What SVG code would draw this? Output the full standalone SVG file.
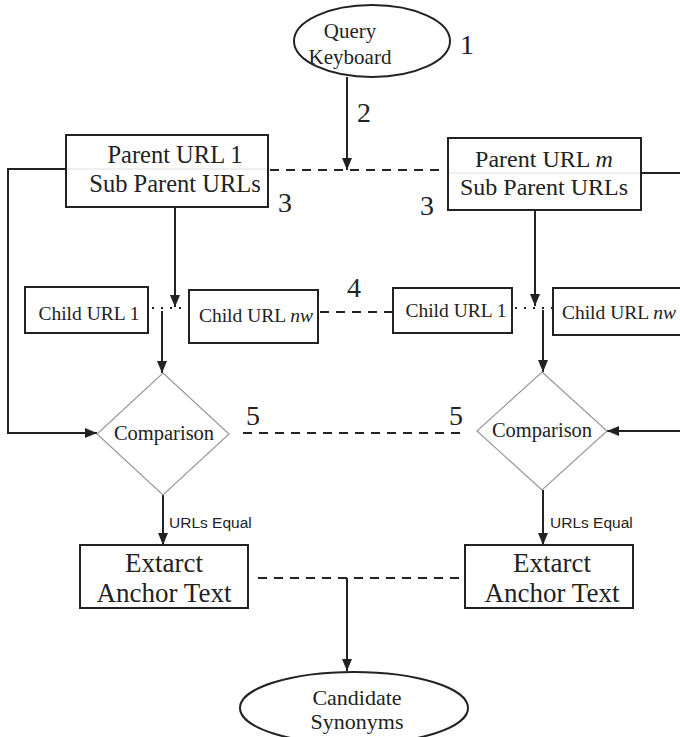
<svg xmlns="http://www.w3.org/2000/svg" width="680" height="737" viewBox="0 0 680 737">
<style>
.box{fill:#fff;stroke:#222;stroke-width:2}
.dia{fill:#fff;stroke:#999;stroke-width:1.2}
.sep{stroke:#ddd;stroke-width:1}
.t{font-family:"Liberation Serif","Times New Roman",serif;fill:#222;text-anchor:middle}
.s{font-family:"Liberation Sans",Arial,sans-serif;fill:#222}
.ln{fill:none;stroke:#222;stroke-width:2}
.dash{fill:none;stroke:#222;stroke-width:2;stroke-dasharray:9 7}
.dot{fill:none;stroke:#222;stroke-width:2;stroke-dasharray:2 7}
.num{font-family:"Liberation Serif","Times New Roman",serif;fill:#222;font-size:28px}
</style>
<defs>
<marker id="ah" viewBox="0 0 12 10" refX="12" refY="5" markerWidth="12" markerHeight="10" orient="auto" markerUnits="userSpaceOnUse"><path d="M0,0 L12,5 L0,10 z" fill="#222"/></marker>
</defs>
<g id="connectors">
<path class="ln" d="M347,77 L347,170" marker-end="url(#ah)"/>
<path class="ln" d="M175,207 L175,307" marker-end="url(#ah)"/>
<path class="ln" d="M535,210 L535,306" marker-end="url(#ah)"/>
<path class="ln" d="M162,311 L162,373" marker-end="url(#ah)"/>
<path class="ln" d="M543,310 L543,372" marker-end="url(#ah)"/>
<path class="ln" d="M66,169 L8,169 L8,433 L97,433" marker-end="url(#ah)"/>
<path class="ln" d="M641,173 L684,173 L684,431 L607,431" marker-end="url(#ah)"/>
<path class="ln" d="M163,495 L163,545" marker-end="url(#ah)"/>
<path class="ln" d="M543,490 L543,545" marker-end="url(#ah)"/>
<path class="ln" d="M347,578 L347,671" marker-end="url(#ah)"/>
<path class="dash" d="M270,170 L446,170"/>
<path class="dash" d="M320,312 L393,312"/>
<path class="dash" d="M243,433 L462,433"/>
<path class="dash" d="M258,578 L460,578"/>
<path class="dot" d="M152,308 L189,308"/>
<path class="dot" d="M515,308 L553,308"/>
<text class="s" x="169" y="528" font-size="15.5">URLs Equal</text>
<text class="s" x="550" y="528" font-size="15.5">URLs Equal</text>
<text class="num" x="460" y="54">1</text>
<text class="num" x="357" y="122">2</text>
<text class="num" x="278" y="212">3</text>
<text class="num" x="420" y="215">3</text>
<text class="num" x="347" y="297">4</text>
<text class="num" x="246" y="425" font-size="25">5</text>
<text class="num" x="449" y="425" font-size="25">5</text>
</g>
<g id="query">
<ellipse cx="372" cy="41" rx="78" ry="36" fill="#fff" stroke="#222" stroke-width="2"/>
<text class="t" x="350" y="38" font-size="21">Query</text>
<text class="t" x="350" y="64" font-size="21">Keyboard</text>
</g>
<g id="parent1">
<rect class="box" x="66" y="135" width="202" height="72"/>
<line class="sep" x1="67" y1="169" x2="267" y2="169"/>
<text class="t" x="175" y="163" font-size="24.5">Parent URL 1</text>
<text class="t" x="175" y="192" font-size="24.5">Sub Parent URLs</text>
</g>
<g id="parentm">
<rect class="box" x="448" y="138" width="193" height="72"/>
<line class="sep" x1="449" y1="173" x2="640" y2="173"/>
<text class="t" x="544" y="167" font-size="24">Parent URL <tspan font-style="italic">m</tspan></text>
<text class="t" x="544" y="195" font-size="24">Sub Parent URLs</text>
</g>
<g id="child1a">
<rect class="box" x="25" y="287" width="123" height="46"/>
<text class="t" x="89" y="320" font-size="19.5">Child URL 1</text>
</g>
<g id="childnwa">
<rect class="box" x="189" y="290" width="129" height="53"/>
<text class="t" x="256" y="322" font-size="19.5">Child URL <tspan font-style="italic">nw</tspan></text>
</g>
<g id="child1b">
<rect class="box" x="393" y="288" width="119" height="45"/>
<text class="t" x="456" y="317" font-size="19.5">Child URL 1</text>
</g>
<g id="childnwb">
<rect class="box" x="553" y="288" width="132" height="47"/>
<text class="t" x="619" y="319" font-size="19.5">Child URL <tspan font-style="italic">nw</tspan></text>
</g>
<g id="comp1">
<polygon class="dia" points="163,373 229,434 163,495 97,434"/>
<text class="t" x="164" y="440" font-size="20.5">Comparison</text>
</g>
<g id="comp2">
<polygon class="dia" points="542,372 607,431 542,490 477,431"/>
<text class="t" x="542" y="437" font-size="20.5">Comparison</text>
</g>
<g id="extract1">
<rect class="box" x="80" y="545" width="168" height="63"/>
<text class="t" x="164" y="572" font-size="27">Extarct</text>
<text class="t" x="164" y="602" font-size="27">Anchor Text</text>
</g>
<g id="extract2">
<rect class="box" x="465" y="545" width="168" height="63"/>
<text class="t" x="552" y="572" font-size="27">Extarct</text>
<text class="t" x="552" y="602" font-size="27">Anchor Text</text>
</g>
<g id="candidate">
<ellipse cx="354" cy="708" rx="114" ry="36" fill="#fff" stroke="#222" stroke-width="2"/>
<text class="t" x="357" y="705" font-size="22">Candidate</text>
<text class="t" x="357" y="729" font-size="22">Synonyms</text>
</g>
</svg>
